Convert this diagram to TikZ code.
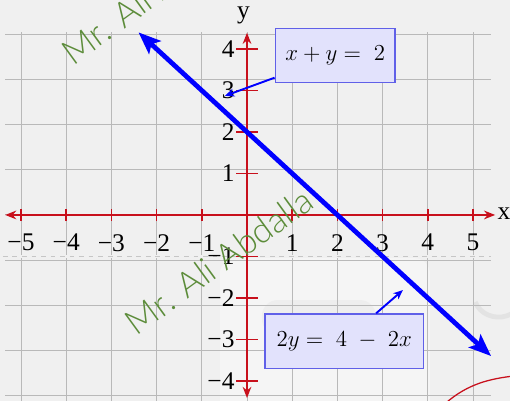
\documentclass[tikz,border=0pt]{standalone}
\usepackage{fontspec}
\usepackage{amssymb}
\usetikzlibrary{arrows.meta}
\newfontfamily\markfont{Lato Light}
\newfontfamily\ticfont{Liberation Serif}
\definecolor{paper}{RGB}{240,240,240}
\definecolor{axisred}{RGB}{200,16,28}
\definecolor{lineblue}{RGB}{0,0,255}
\definecolor{boxfill}{RGB}{226,226,252}
\definecolor{boxedge}{RGB}{96,96,232}
\definecolor{markgreen}{RGB}{92,140,58}

\begin{document}
\begin{tikzpicture}[x=1cm, y=0.918cm, font=\ticfont\fontsize{16}{18}\selectfont,
    gridline/.style={gray!55, line width=0.6pt},
    axisline/.style={axisred, line width=1pt,
      {Stealth[length=7pt,width=5.5pt]}-{Stealth[length=7pt,width=5.5pt]}},
    ticline/.style={axisred, line width=1pt},
    eqline/.style={lineblue, line width=3pt,
      {Stealth[length=14pt,width=11pt,inset=3pt]}-{Stealth[length=14pt,width=11pt,inset=3pt]}},
    eqbox/.style={draw=boxedge, fill=boxfill, line width=0.8pt,
      minimum height=1.2cm, font=\fontsize{15}{17}\selectfont},
    pointer/.style={lineblue, line width=1.2pt, -{Stealth[length=6pt,width=5pt]}},
    watermark/.style={markgreen, rotate=36, anchor=base west,
      font=\markfont\fontsize{22}{24}\selectfont}]
  \useasboundingbox (-5.465,-4.482) rectangle (5.819,5.181);
  \fill[paper] (-5.465,-4.482) rectangle (5.819,5.181);
  \begin{scope}
    \clip (-5.465,-4.482) rectangle (5.819,5.181);
    % faint logo behind the grid
    \fill[white, opacity=0.35, rounded corners=10pt] (-0.6,-1.04) rectangle (4.05,-4.8);
    \fill[gray!18, opacity=0.5, rounded corners=10pt] (0.33,-2.05) rectangle (2.85,-2.89);
    \draw[gray!22, line width=3pt] (5.05,-2.1) arc (200:330:0.55);
    % grid
    \draw[gridline] (-5.35,-4.6) grid (5.4,4.4);
    \draw[paper, line width=1.6pt] (-5.4,-1) -- (5.4,-1);
    \draw[gray!45, line width=0.7pt, dashed] (-5.4,-1) -- (5.4,-1);
    % logo curve
    \draw[axisred, line width=0.8pt] (4.38,-4.55) .. controls (4.9,-4.05) and (5.4,-3.95) .. (5.9,-3.88);
  \end{scope}
  % axes
  \coordinate (xleft) at (-5.35,0);
  \coordinate (xright) at (5.49,0);
  \coordinate (ydown) at (0,-4.41);
  \coordinate (yup) at (0,4.39);
  \draw[axisline] (xleft) -- (xright);
  \draw[axisline] (ydown) -- (yup);
  \node[anchor=west, inner sep=2pt] (xname) at (5.47,0.02) {x};
  \node (yname) at (-0.08,4.82) {y};
  \newcommand{\xtic}[3]{\draw[ticline] (#1,-0.15) -- (#1,0.15);
    \node[anchor=north, inner sep=2pt] (#3) at (#1,-0.38) {#2};}
  \newcommand{\ytic}[3]{\draw[ticline] (-0.24,#1) -- (0.24,#1);
    \node[anchor=east, inner sep=2pt] (#3) at (-0.2,#1) {#2};}
  \xtic{-5}{−5}{xm5} \xtic{-4}{−4}{xm4} \xtic{-3}{−3}{xm3}
  \xtic{-2}{−2}{xm2} \xtic{-1}{−1}{xm1}
  \xtic{1}{1}{xp1} \xtic{2}{2}{xp2} \xtic{3}{3}{xp3} \xtic{4}{4}{xp4} \xtic{5}{5}{xp5}
  \ytic{-4}{−4}{ym4} \ytic{-3}{−3}{ym3} \ytic{-2}{−2}{ym2} \ytic{-1}{−1}{ym1}
  \ytic{1}{1}{yp1} \ytic{2}{2}{yp2} \ytic{3}{3}{yp3} \ytic{4}{4}{yp4}
  % the line x + y = 2
  \coordinate (lineup) at (-2.4,4.4);
  \coordinate (linedown) at (5.4,-3.4);
  \draw[eqline] (lineup) -- (linedown);
  % watermark
  \begin{scope}
    \clip (-5.465,-4.482) rectangle (5.819,5.181);
    \node[watermark] (marktop) at (-3.95,3.5) {Mr. Ali Abdalla};
    \node[watermark] (markmid) at (-2.54,-3.01) {Mr. Ali Abdalla};
  \end{scope}
  % labels
  \coordinate (tipa) at (-0.49,2.87);
  \coordinate (tipb) at (3.45,-1.81);
  \node[eqbox, minimum width=2.65cm] (eqa) at (1.95,3.84) {$x + y =\; 2$};
  \node[eqbox, minimum width=3.5cm] (eqb) at (2.15,-3.04) {$2y =\; 4 \;-\; 2x$};
  \draw[pointer] (eqa) -- (tipa);
  \draw[pointer] (eqb) -- (tipb);
\end{tikzpicture}
\end{document}
